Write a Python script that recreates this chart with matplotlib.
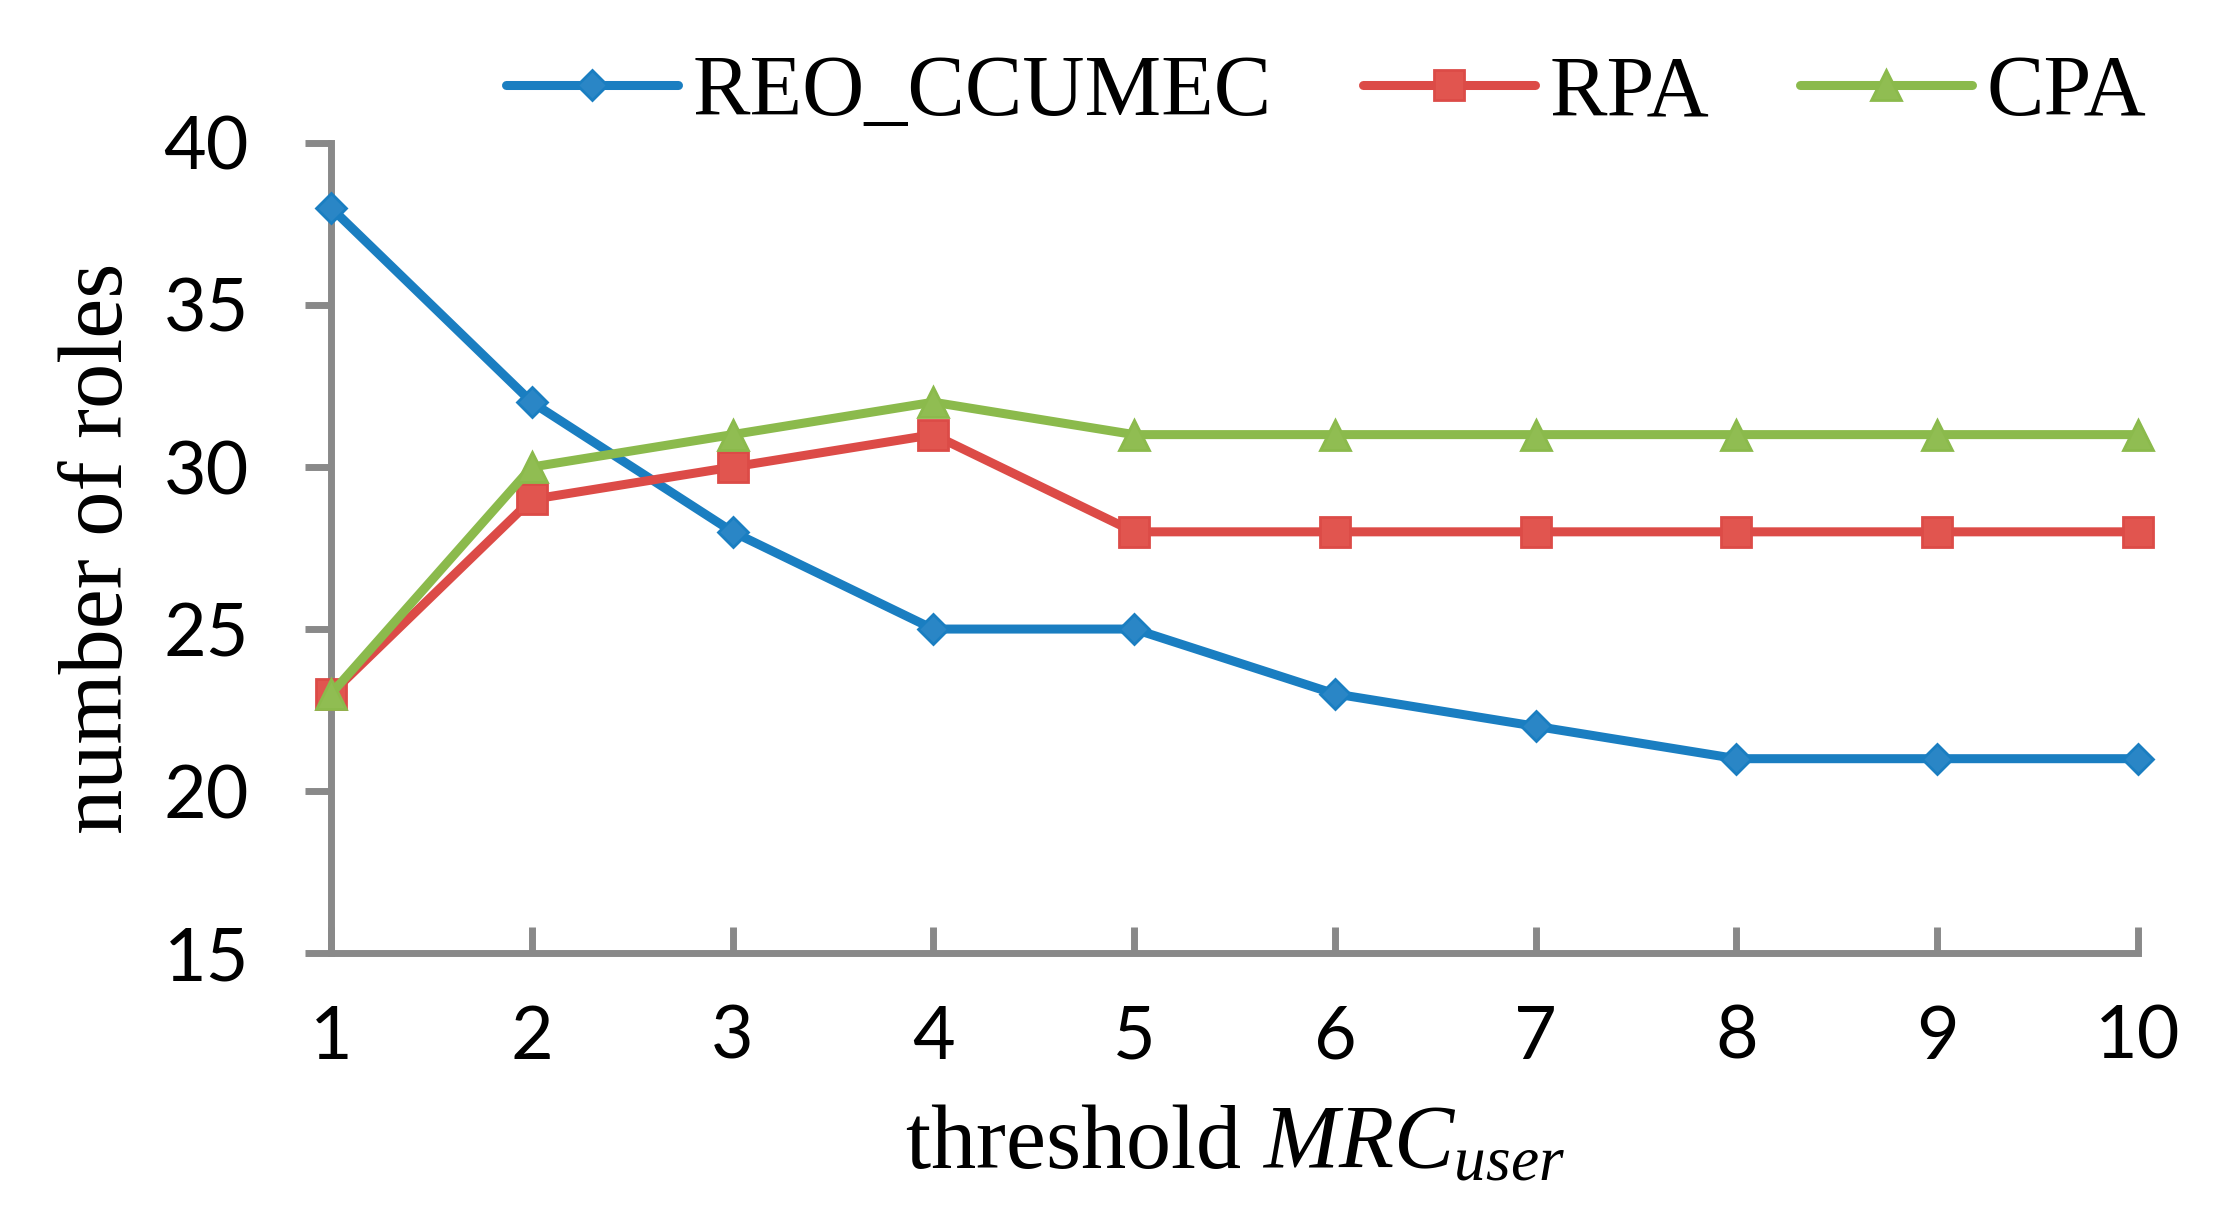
import matplotlib
matplotlib.use("Agg")
import matplotlib.pyplot as plt

# data
thresholds = [1, 2, 3, 4, 5, 6, 7, 8, 9, 10]
reo_ccumec = [38, 32, 28, 25, 25, 23, 22, 21, 21, 21]
rpa = [23, 29, 30, 31, 28, 28, 28, 28, 28, 28]
cpa = [23, 30, 31, 32, 31, 31, 31, 31, 31, 31]
y_ticks = [15, 20, 25, 30, 35, 40]

plt.rcParams['mathtext.fontset'] = 'custom'
plt.rcParams['mathtext.rm'] = 'Liberation Serif'
plt.rcParams['mathtext.it'] = 'Liberation Serif:italic'

serif = 'Liberation Serif'
tickfont = 'Lato'
gray = '#898989'

fig = plt.figure(figsize=(22.29, 12.27), dpi=100)
ax = fig.add_axes([0.1485, 0.2232, 0.8107, 0.6603])

series = [
    ('REO_CCUMEC', reo_ccumec, '#1a7ec1', '#2a86c6', 'D', 15.5),
    ('RPA', rpa, '#dc4b47', '#e1554f', 's', 21),
    ('CPA', cpa, '#8bba4c', '#90bd52', '^', 22),
]
for name, vals, col, face, mk, ms in series:
    ax.plot(thresholds, vals, color=col, lw=6.5, marker=mk, ms=ms,
            mfc=face, mec=col, mew=2, label=name, clip_on=False, zorder=3,
            solid_capstyle='round', solid_joinstyle='round')

ax.set_xlim(1, 10)
ax.set_ylim(15, 40)
ax.set_xticks(thresholds)
ax.set_yticks(y_ticks)

for s in ['top', 'right']:
    ax.spines[s].set_visible(False)
for s in ['left', 'bottom']:
    ax.spines[s].set_color(gray)
    ax.spines[s].set_linewidth(5)

ax.tick_params(axis='x', direction='in', length=19, width=5, color=gray, pad=37)
ax.tick_params(axis='y', direction='out', length=19, width=5, color=gray, pad=40)
for lab in ax.get_xticklabels() + ax.get_yticklabels():
    lab.set_fontfamily(tickfont)
    lab.set_fontsize(53)

ax.set_ylabel('number of roles', fontfamily=serif, fontsize=65)
ax.yaxis.set_label_coords(-0.105, 0.5)
ax.set_xlabel('threshold $\\mathit{MRC}_{\\mathit{user}}$', fontfamily=serif, fontsize=65)
ax.xaxis.set_label_coords(0.5, -0.187)

fig.legend(loc='center', bbox_to_anchor=(0.595, 0.923), ncol=3, frameon=False,
           prop={'family': serif, 'size': 62}, handlelength=2.0,
           handletextpad=0.17, columnspacing=1.05, borderpad=0, borderaxespad=0)

fig.savefig('out.png', dpi=100)
